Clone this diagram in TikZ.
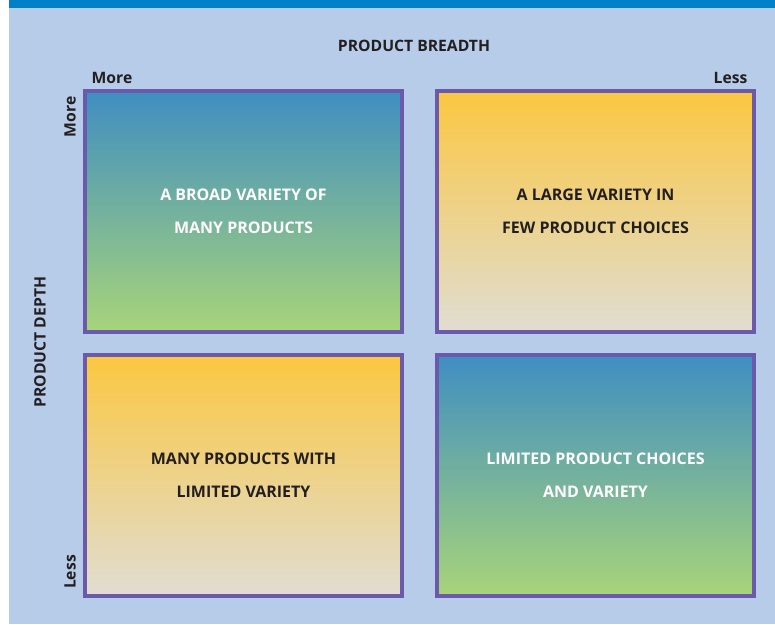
\documentclass[tikz,border=0pt]{standalone}
\usepackage{fontspec}
\setmainfont{Open Sans}
\definecolor{bgblue}{HTML}{B6CCE8}
\definecolor{barblue}{HTML}{0080C6}
\definecolor{frame}{HTML}{6B5AAB}
\definecolor{qblue}{HTML}{3F8EC2}
\definecolor{qgreen}{HTML}{A8D47A}
\definecolor{qorange}{HTML}{FBC740}
\definecolor{qgrey}{HTML}{E0DDD2}
\definecolor{ink}{HTML}{231F20}
\begin{document}
\begin{tikzpicture}[x=1pt,y=-1pt,
  quad/.style={draw=frame,line width=4pt,minimum width=317pt,minimum height=241pt,
    inner sep=0pt,align=center,font=\bfseries\fontsize{16}{33}\selectfont},
  coolq/.style={quad,top color=qblue,bottom color=qgreen,text=white},
  warmq/.style={quad,top color=qorange,bottom color=qgrey,text=ink},
  lab/.style={font=\bfseries\fontsize{15.7}{18}\selectfont,text=ink,inner sep=0pt}]
\useasboundingbox (0,0) rectangle (775,624);
\fill[white] (0,0) rectangle (775,624);
\fill[bgblue] (9,0) rectangle (775,624);
\fill[barblue] (9,0) rectangle (775,8);
\node[lab] (breadth) at (414,46) {PRODUCT BREADTH};
\node[lab] (bmore) at (112,78) {More};
\node[lab] (bless) at (730.5,78) {Less};
\node[lab,rotate=90] (depth) at (40,342) {PRODUCT DEPTH};
\node[lab,rotate=90] (dmore) at (70,117) {More};
\node[lab,rotate=90] (dless) at (70,572) {Less};
\node[coolq] (tl) at (243.5,211) {A BROAD VARIETY OF\\MANY PRODUCTS};
\node[warmq] (tr) at (595.5,211) {A LARGE VARIETY IN\\FEW PRODUCT CHOICES};
\node[warmq] (bl) at (243.5,475) {MANY PRODUCTS WITH\\LIMITED VARIETY};
\node[coolq] (br) at (595.5,475) {LIMITED PRODUCT CHOICES\\AND VARIETY};
\end{tikzpicture}
\end{document}
